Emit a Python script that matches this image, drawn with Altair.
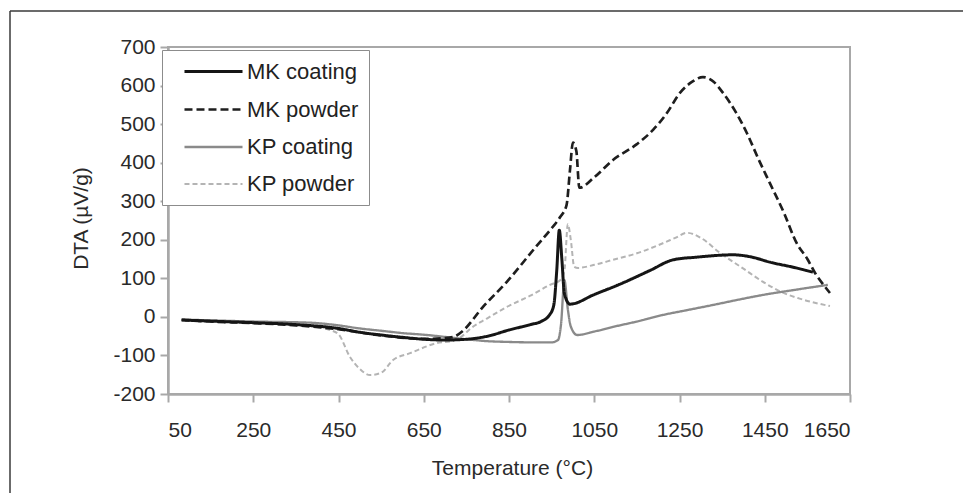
import altair as alt
import pandas as pd

series_names = ["MK coating", "MK powder", "KP coating", "KP powder"]
series_colors = ["#151515", "#1e1e1e", "#8a8a8a", "#b4b4b4"]
series_dashes = [[1, 0], [8, 4], [1, 0], [5, 3]]
series_widths = [3, 2, 3, 1.5]

mk_coating_t = [82, 150, 250, 350, 450, 500, 550, 600, 650, 700, 750, 800, 850, 900, 925, 945,
                955, 962, 968, 974, 980, 993, 1050, 1117, 1180, 1235, 1291, 1376, 1420, 1462, 1520, 1563]
mk_coating_v = [-8, -11, -15, -20, -30, -40, -47, -53, -58, -60, -58, -50, -34, -20, -12, 5,
                30, 120, 225, 150, 60, 33, 58, 88, 120, 148, 155, 161, 155, 142, 128, 116]

mk_powder_t = [82, 150, 250, 350, 450, 550, 650, 700, 720, 740, 789, 845, 911, 950, 970, 985, 993,
               1000, 1008, 1015, 1050, 1094, 1150, 1188, 1220, 1251, 1280, 1305, 1330, 1352, 1380,
               1408, 1435, 1462, 1495, 1525, 1550, 1568, 1590, 1603]
mk_powder_v = [-8, -12, -16, -22, -32, -48, -57, -55, -52, -38, 26, 91, 179, 230, 259, 290, 380,
               452, 430, 335, 362, 407, 448, 485, 528, 581, 610, 622, 610, 581, 535,
               477, 410, 347, 270, 191, 150, 114, 80, 62]

kp_coating_t = [82, 150, 250, 383, 450, 500, 550, 600, 658, 700, 750, 800, 850, 900, 950, 965, 972,
                980, 988, 995, 1010, 1050, 1094, 1150, 1211, 1270, 1329, 1390, 1446, 1520, 1598]
kp_coating_v = [-7, -9, -12, -15, -22, -30, -36, -42, -47, -52, -58, -63, -65, -66, -66, -60, -20,
                95, 20, -25, -47, -38, -26, -12, 5, 18, 31, 45, 57, 70, 83]

kp_powder_t = [82, 150, 250, 350, 400, 430, 450, 477, 500, 524, 550, 578, 618, 681, 720, 740, 760,
               800, 845, 900, 946, 970, 980, 988, 995, 1003, 1012, 1050, 1094, 1150, 1211, 1240,
               1268, 1300, 1345, 1400, 1450, 1490, 1530, 1603]
kp_powder_v = [-8, -10, -14, -20, -26, -34, -45, -104, -135, -151, -145, -112, -94, -68, -62, -50, -30,
               -3, 26, 55, 83, 95, 120, 240, 200, 130, 127, 135, 148, 165, 191, 205,
               218, 205, 166, 125, 88, 64, 48, 28]

x_ticks = [50, 250, 450, 650, 850, 1050, 1250, 1450, 1650]
y_ticks = [-200, -100, 0, 100, 200, 300, 400, 500, 600, 700]

rows = []
for name, ts, vs in [
    ("KP powder", kp_powder_t, kp_powder_v),
    ("KP coating", kp_coating_t, kp_coating_v),
    ("MK powder", mk_powder_t, mk_powder_v),
    ("MK coating", mk_coating_t, mk_coating_v),
]:
    for t, v in zip(ts, vs):
        rows.append({"series": name, "t": t, "v": v})
df = pd.DataFrame(rows)

FONT = "Liberation Sans"

legend = alt.Legend(
    title=None,
    orient="none",
    legendX=-6,
    legendY=3,
    symbolType="M-3,0H3",
    symbolSize=374,
    symbolOffset=30,
    labelOffset=22,
    rowPadding=15,
    labelFont=FONT,
    labelFontSize=22,
    labelColor="#222222",
    labelExpr="datum.label + '\u2002'",
    padding=10,
    strokeColor="#8c8c8c",
    fillColor="white",
)

lines = alt.Chart(df).mark_line(interpolate="monotone").encode(
    x=alt.X("t:Q",
            scale=alt.Scale(domain=[50, 1650], nice=False, zero=False),
            axis=alt.Axis(values=x_ticks, title="Temperature (°C)", labelPadding=17,
                          labelExpr="'' + datum.value",
                          titleX=344, titleY=74, titleBaseline="middle", titleAlign="center")),
    y=alt.Y("v:Q",
            scale=alt.Scale(domain=[-200, 700], nice=False, zero=False),
            axis=alt.Axis(values=y_ticks, title="DTA (µV/g)", labelPadding=5,
                          labelExpr="'' + datum.value",
                          titleX=-87, titleY=171, titleAngle=270, titleBaseline="middle",
                          titleAlign="center")),
    color=alt.Color("series:N", scale=alt.Scale(domain=series_names, range=series_colors), legend=legend),
    strokeDash=alt.StrokeDash("series:N", scale=alt.Scale(domain=series_names, range=series_dashes), legend=legend),
    strokeWidth=alt.StrokeWidth("series:N", scale=alt.Scale(domain=series_names, range=series_widths), legend=legend),
    detail="series:N",
)

frame_df = pd.DataFrame({"k": [0]})
frame_top = alt.Chart(frame_df).mark_rule(color="#3a3a3a", strokeWidth=1.5).encode(
    x=alt.value(-158), x2=alt.value(820), y=alt.value(-36)
)
frame_left = alt.Chart(frame_df).mark_rule(color="#3a3a3a", strokeWidth=1.5).encode(
    x=alt.value(-158), y=alt.value(-36), y2=alt.value(470)
)

chart = alt.layer(frame_top, frame_left, lines).properties(
    width=682,
    height=347,
    autosize=alt.AutoSizeParams(type="none"),
    padding={"left": 168, "top": 47, "right": 113, "bottom": 99},
    background="white",
).configure_view(
    stroke="#a8a8a8", strokeWidth=2
).configure_axis(
    grid=False,
    domainColor="#a8a8a8",
    domainWidth=2.5,
    tickColor="#a8a8a8",
    tickWidth=2,
    tickSize=8,
    labelFont=FONT,
    labelFontSize=21,
    labelColor="#2a2a2a",
    titleFont=FONT,
    titleFontSize=21,
    titleFontWeight="normal",
    titleColor="#2a2a2a",
)

chart.save("out.html", embed_options={"renderer": "svg", "actions": False})
